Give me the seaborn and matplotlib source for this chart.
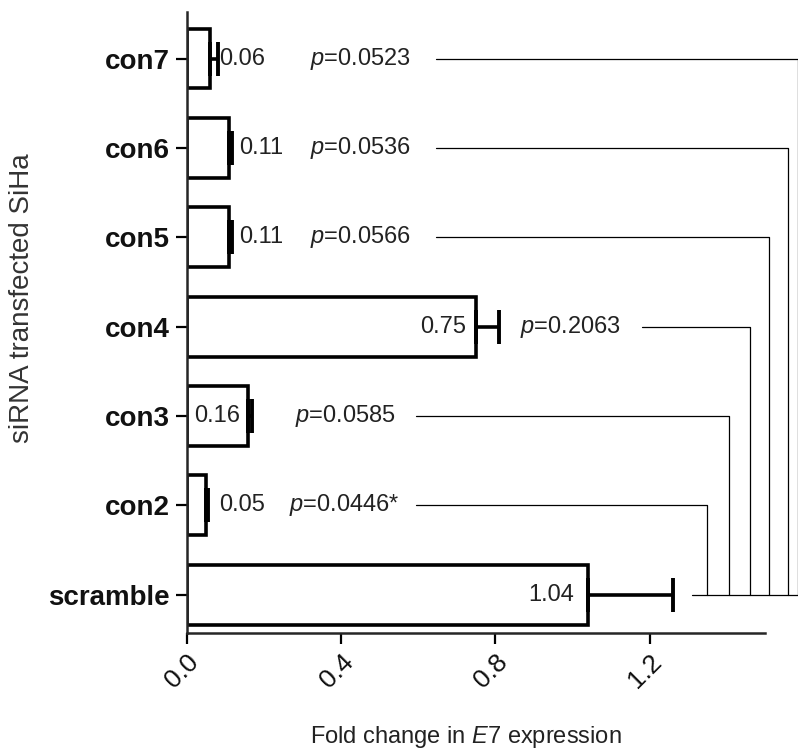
import matplotlib
matplotlib.use('Agg')
import matplotlib.pyplot as plt
import seaborn as sns
import pandas as pd

# data (top to bottom)
groups = ['con7', 'con6', 'con5', 'con4', 'con3', 'con2', 'scramble']
fold = [0.06, 0.11, 0.11, 0.75, 0.16, 0.05, 1.04]
err_up = [0.02, 0.007, 0.007, 0.06, 0.008, 0.006, 0.22]
value_labels = ['0.06', '0.11', '0.11', '0.75', '0.16', '0.05', '1.04']
p_values = ['0.0523', '0.0536', '0.0566', '0.2063', '0.0585', '0.0446*']
x_ticks = [0.0, 0.4, 0.8, 1.2]

df = pd.DataFrame({'group': groups, 'fold': fold, 'err': err_up})

sns.set_style('ticks')
plt.rcParams['font.family'] = ['Liberation Sans', 'DejaVu Sans']
plt.rcParams['mathtext.fontset'] = 'custom'
plt.rcParams['mathtext.rm'] = 'Liberation Sans'
plt.rcParams['mathtext.it'] = 'Liberation Sans:italic'

fig = plt.figure(figsize=(7.98, 7.52), dpi=100)
ax = fig.add_axes([0.234, 0.158, 0.725, 0.826])

sns.barplot(data=df, x='fold', y='group', order=groups, orient='h',
            color='white', edgecolor='black', linewidth=2.6, width=0.67,
            errorbar=None, ax=ax)

ax.errorbar(df['fold'], range(len(groups)),
            xerr=[[0] * len(groups), df['err']],
            fmt='none', ecolor='black', elinewidth=2.6, capsize=12, capthick=2.8)

for s in ['top', 'right']:
    ax.spines[s].set_visible(False)
for s in ['left', 'bottom']:
    ax.spines[s].set_linewidth(1.8)

ax.set_xlim(0, 1.5)
ax.set_ylim(6.43, -0.52)
ax.set_xticks(x_ticks)
ax.set_xticklabels([f'{t:.1f}' for t in x_ticks], rotation=45, ha='right',
                   rotation_mode='anchor', fontsize=19, color='#111111')
ax.set_yticks(range(len(groups)))
ax.set_yticklabels(groups, fontsize=20, fontweight='bold', color='#111111')
ax.tick_params(axis='both', width=1.6, length=8, color='black')
ax.tick_params(axis='y', pad=4)
ax.tick_params(axis='x', pad=4)

ax.set_ylabel('siRNA transfected SiHa', fontsize=20, color='#333333')
ax.yaxis.set_label_coords(-0.262, 0.54)
ax.set_xlabel(r'Fold change in $\mathit{E7}$ expression', fontsize=17,
              color='#222222')
ax.xaxis.set_label_coords(0.482, -0.146)

# value labels: (x, ha)
label_pos = [(0.085, 'left'), (0.137, 'left'), (0.137, 'left'), (0.725, 'right'),
             (0.02, 'left'), (0.085, 'left'), (1.005, 'right')]
for i, (txt, (lx, ha)) in enumerate(zip(value_labels, label_pos)):
    ax.text(lx, i, txt, ha=ha, va='center', fontsize=17, color='#222222')

# p values and brackets to scramble
p_text_x = [0.32, 0.32, 0.32, 0.865, 0.28, 0.265]
line_start = [0.645, 0.645, 0.645, 1.18, 0.595, 0.595]
bracket_x = [1.585, 1.56, 1.51, 1.46, 1.405, 1.35]
base_y = groups.index('scramble')
for i, p in enumerate(p_values):
    ax.text(p_text_x[i], i, r'$p$=' + p, ha='left', va='center', fontsize=17,
            color='#222222')
    ax.plot([line_start[i], bracket_x[i], bracket_x[i]], [i, i, base_y],
            color='black', lw=0.9, clip_on=False)
ax.plot([1.31, 1.6], [base_y, base_y], color='black', lw=0.9, clip_on=False)

fig.savefig('out.png', dpi=100)
